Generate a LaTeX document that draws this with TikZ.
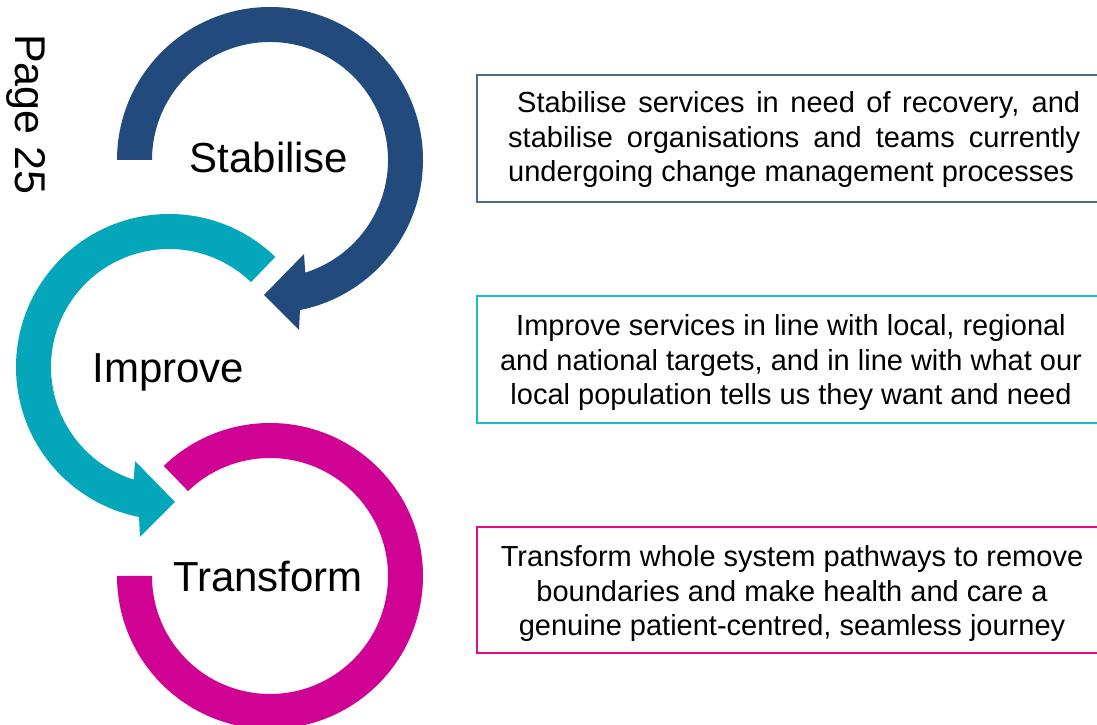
\documentclass[tikz,border=0pt]{standalone}
\usepackage{fontspec}
\setmainfont{Liberation Sans}
\definecolor{stabblue}{RGB}{34,74,124}
\definecolor{impteal}{RGB}{4,166,186}
\definecolor{tramag}{RGB}{208,2,148}
\definecolor{stabedge}{RGB}{74,106,133}
\definecolor{impedge}{RGB}{30,186,200}
\definecolor{traedge}{RGB}{228,12,132}
\begin{document}
\begin{tikzpicture}[x=1pt,y=1pt,
  ringlabel/.style={font=\fontsize{42}{50}\selectfont, inner sep=0pt, anchor=base},
  boxtext/.style={font=\fontsize{29}{34.5}\selectfont, inner sep=0pt, anchor=base},
  frame/.style={line width=2.8pt}]
\useasboundingbox (0,0) rectangle (1097,725);
\fill[white] (0,0) rectangle (1097,725);
\clip (0,0) rectangle (1097,725);

% ring centres
\coordinate (cB) at (270,565);
\coordinate (cT) at (169,358);
\coordinate (cM) at (270,149);

% Stabilise: clockwise arrow
\fill[stabblue] ([shift={(180:153pt)}]cB) arc[start angle=180,end angle=-78.7,radius=153pt]
  -- (299,395) -- (264,430) -- (304,471)
  -- ([shift={(-72.6:118pt)}]cB) arc[start angle=-72.6,end angle=180,radius=118pt] -- cycle;

% Improve: anticlockwise arrow
\fill[impteal] ([shift={(46:153pt)}]cT) arc[start angle=46,end angle=258.7,radius=153pt]
  -- (140,188) -- (175,223) -- (135,264)
  -- ([shift={(252.6:118pt)}]cT) arc[start angle=252.6,end angle=46,radius=118pt] -- cycle;

% Transform: open ring
\fill[tramag] ([shift={(134:153pt)}]cM) arc[start angle=134,end angle=-180,radius=153pt]
  -- ([shift={(180:118pt)}]cM) arc[start angle=-180,end angle=134,radius=118pt] -- cycle;

% ring labels
\node[ringlabel] (stab) at (269,552) {Stabilise};
\node[ringlabel] (imp) at (168.5,342) {Improve};
\node[ringlabel] (tra) at (268,133) {Transform};

% page number
\node[font=\fontsize{43}{50}\selectfont, inner sep=0pt, rotate=-90, anchor=base west] (page) at (15,691) {Page 25};

% description boxes
\draw[frame, stabedge] (477,523) rectangle (1120,650);
\draw[frame, impedge] (477,302) rectangle (1120,429);
\draw[frame, traedge] (477,72) rectangle (1120,198);

% box texts (node base = baseline of the last line)
\node[boxtext, anchor=base west, align=left] (stabtext) at (508,543.3)
  {\hspace*{9pt}\makebox[563pt][s]{Stabilise services in need of recovery, and}\\
   \makebox[572pt][s]{stabilise organisations and teams currently}\\
   undergoing change management processes};
\node[boxtext, align=center] (imptext) at (791,320)
  {Improve services in line with local, regional\\
   and national targets, and in line with what our\\
   local population tells us they want and need};
\node[boxtext, align=center] (tratext) at (792,89)
  {Transform whole system pathways to remove\\
   boundaries and make health and care a\\
   genuine patient-centred, seamless journey};
\end{tikzpicture}
\end{document}
